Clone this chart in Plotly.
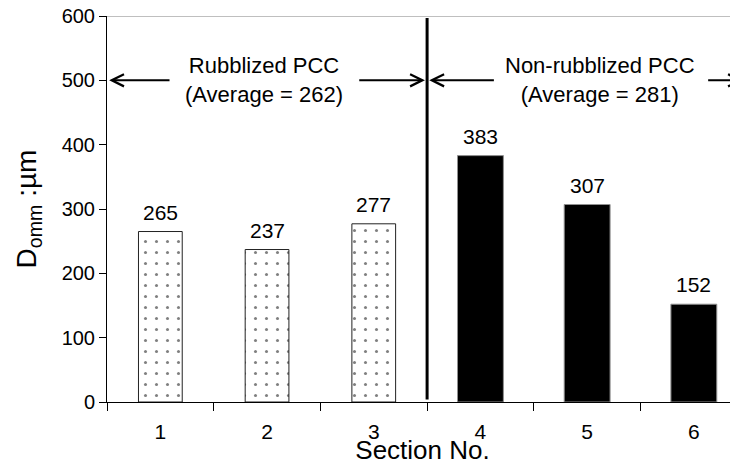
import plotly.graph_objects as go

# ---- data ----
sections = [1, 2, 3, 4, 5, 6]
section_labels = ["1", "2", "3", "4", "5", "6"]
d_omm = [265, 237, 277, 383, 307, 152]
rubblized_sections = [1, 2, 3]
rubblized_values = [265, 237, 277]
nonrubblized_sections = [4, 5, 6]
nonrubblized_values = [383, 307, 152]
group_names = ["Rubblized PCC", "Non-rubblized PCC"]
group_averages = [262, 281]
group_bounds = [(0.5, 3.5), (3.5, 6.5)]
y_ticks = [0, 100, 200, 300, 400, 500, 600]

FONT = "Arial, Liberation Sans, sans-serif"
BODY = 8  # default page margin around the plot div
W, H = 738 - BODY, 465 - BODY
ML, MR, MT, MB = 107 - BODY, 0, 16 - BODY, 63
cat_px = 106.7
x_end = 0.5 + (W - ML - MR) / cat_px

fig = go.Figure()
fig.add_trace(go.Bar(
    x=rubblized_sections, y=rubblized_values, width=0.41,
    marker=dict(color="white",
                line=dict(color="#222222", width=1),
                pattern=dict(shape=".", fgcolor="black", bgcolor="white",
                             size=11, solidity=0.06)),
    showlegend=False,
))
fig.add_trace(go.Bar(
    x=nonrubblized_sections, y=nonrubblized_values, width=0.43,
    marker=dict(color="black", line=dict(color="#909090", width=1)),
    showlegend=False,
))

annotations = []
# value labels
for s, v in zip(sections, d_omm):
    annotations.append(dict(x=s, y=v, xref="x", yref="y", text=str(v),
                            showarrow=False, yanchor="bottom", yshift=6,
                            font=dict(family=FONT, size=21, color="black")))

# group labels with arrows
label_x = [1.97, 5.12]
arrow_tails = [(1.1, 2.85), (4.14, 6.12)]
arrow_heads = [(0.52, 3.48), (3.52, 6.46)]
y_arrow = 500
for name, avg, lx, tails, heads in zip(group_names, group_averages, label_x,
                                       arrow_tails, arrow_heads):
    annotations.append(dict(x=lx, y=y_arrow, xref="x", yref="y",
                            text=f"{name}<br>(Average = {avg})",
                            showarrow=False, align="center",
                            font=dict(family=FONT, size=22, color="black")))
    for t, h in zip(tails, heads):
        annotations.append(dict(x=h, y=y_arrow, ax=t, ay=y_arrow,
                                xref="x", yref="y", axref="x", ayref="y",
                                text="", showarrow=True, arrowhead=5,
                                arrowsize=1.2, arrowwidth=2,
                                arrowcolor="black", standoff=0,
                                startstandoff=0))

shapes = [
    dict(type="line", xref="paper", yref="y", x0=0, x1=1, y0=600, y1=600,
         line=dict(color="#808080", width=1)),
    dict(type="line", xref="x", yref="y", x0=group_bounds[0][1],
         x1=group_bounds[0][1], y0=4, y1=597,
         line=dict(color="black", width=3)),
]

fig.update_layout(
    width=W, height=H, autosize=False,
    margin=dict(l=ML, r=MR, t=MT, b=MB, pad=0, autoexpand=False),
    paper_bgcolor="white", plot_bgcolor="white",
    barmode="overlay",
    font=dict(family=FONT, color="black"),
    annotations=annotations, shapes=shapes,
    xaxis=dict(
        range=[0.5, x_end], tickmode="array", tickvals=sections,
        ticktext=section_labels, ticks="outside", ticklen=1,
        tickcolor="rgba(0,0,0,0)", ticklabelstandoff=10,
        ticklabeloverflow="allow",
        minor=dict(tickmode="linear", tick0=0.5, dtick=1, ticks="outside",
                   ticklen=8, tickcolor="black", tickwidth=1, showgrid=False),
        showline=True, linecolor="black", linewidth=1,
        showgrid=False, zeroline=False, automargin=False,
        tickfont=dict(family=FONT, size=21, color="black"),
        title=dict(text="Section No.", standoff=5,
                   font=dict(family=FONT, size=26, color="black")),
    ),
    yaxis=dict(
        range=[0, 600], tickmode="array", tickvals=y_ticks,
        ticks="outside", ticklen=7, tickcolor="black",
        ticklabeloverflow="allow",
        showline=True, linecolor="black", linewidth=1,
        showgrid=False, zeroline=False, automargin=False,
        tickfont=dict(family=FONT, size=20, color="black"),
        title=dict(text="D<sub>omm</sub> :µm", standoff=16,
                   font=dict(family=FONT, size=28, color="black")),
    ),
)

fig.write_html("out.html")
